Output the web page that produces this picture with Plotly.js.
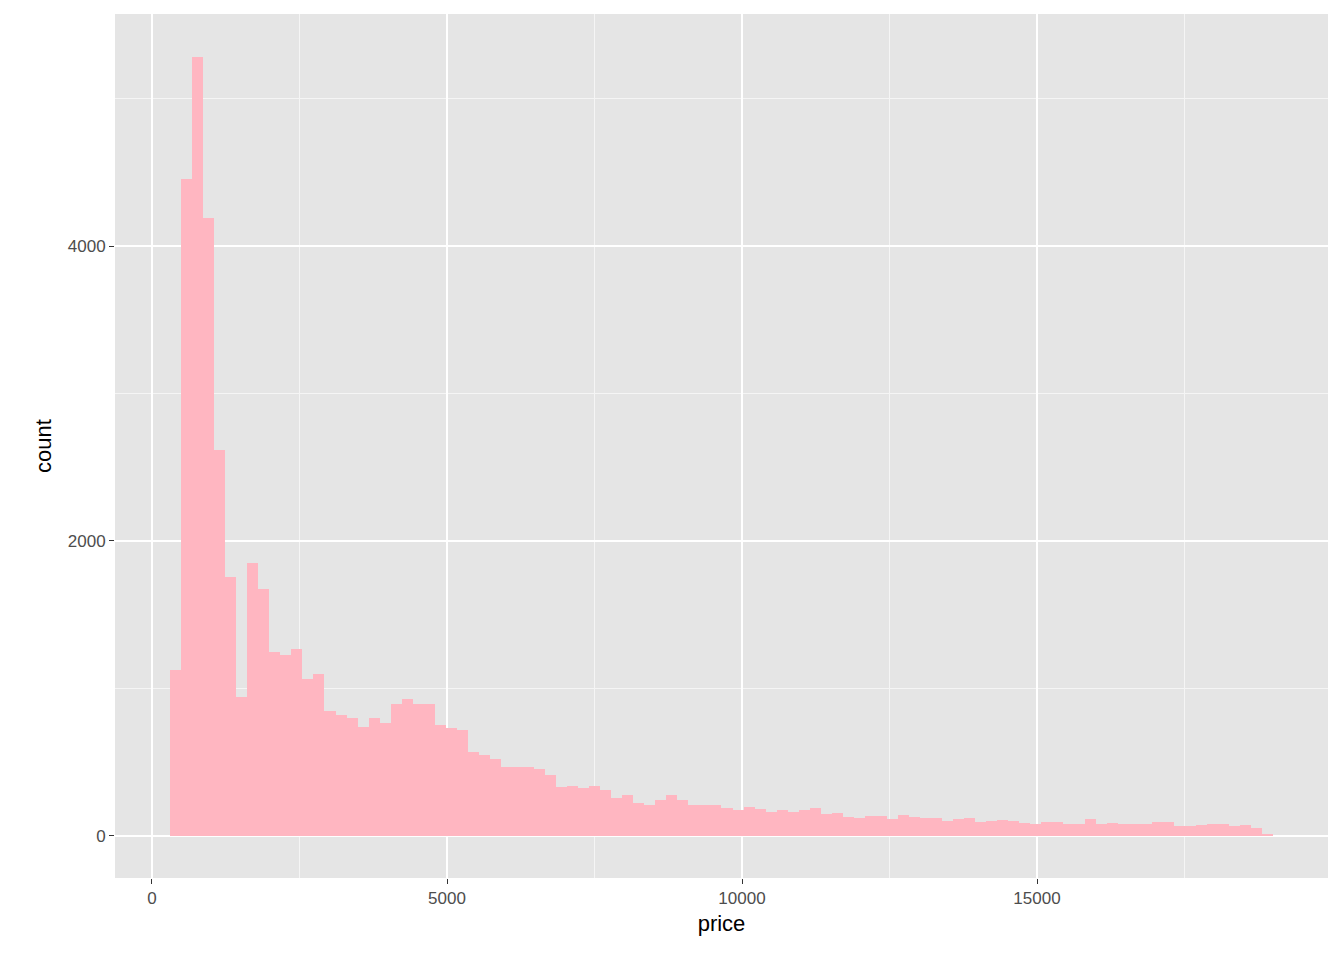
<!DOCTYPE html>
<html>
<head>
<meta charset="utf-8">
<script src="https://cdn.plot.ly/plotly-3.0.1.min.js"></script>
<style>html,body{margin:0;padding:0;background:#fff;}#chart{width:1344px;height:960px;}</style>
</head>
<body>
<div id="chart"></div>
<script>
/* Histogram of price, 100 bins; counts */
const binStart = 307;
const binWidth = 186.9;
const counts = [
  1126, 4451, 5284, 4189, 2616, 1759, 943, 1848, 1673, 1246,
  1229, 1267, 1067, 1098, 850, 823, 802, 737, 802, 768,
  898, 929, 898, 898, 754, 730, 716, 567, 547, 520,
  466, 466, 466, 452, 411, 330, 337, 323, 337, 310,
  255, 276, 221, 208, 242, 276, 242, 208, 208, 208,
  188, 174, 194, 181, 160, 174, 160, 174, 188, 147,
  154, 127, 120, 133, 133, 113, 140, 127, 120, 120,
  99, 113, 120, 93, 99, 106, 99, 86, 79, 93,
  93, 79, 79, 113, 79, 86, 79, 79, 79, 93,
  93, 66, 66, 72, 79, 79, 66, 72, 52, 11
];
const centers = counts.map((_, i) => binStart + binWidth * (i + 0.5));

const AXIS_STYLE = {
  showgrid: true,
  gridcolor: '#ffffff',
  gridwidth: 2.2,
  zeroline: false,
  showline: false,
  ticks: 'outside',
  ticklen: 5,
  tickwidth: 1.1,
  tickcolor: '#333333',
  tickfont: { family: 'Liberation Sans, Arial, sans-serif', size: 17, color: '#4d4d4d' },
};

const traces = [{
  type: 'bar',
  x: centers,
  y: counts,
  width: binWidth,
  marker: { color: '#FFB6C1', line: { width: 0 } },
  hoverinfo: 'x+y',
}];

const layout = {
  width: 1344, height: 960,
  paper_bgcolor: '#ffffff',
  plot_bgcolor: '#e5e5e5',
  margin: { l: 115, r: 16, t: 14, b: 82 },
  showlegend: false,
  bargap: 0,
  xaxis: {
    ...AXIS_STYLE,
    range: [-627, 19932],
    tickvals: [0, 5000, 10000, 15000],
    ticktext: ['0', '5000', '10000', '15000'],
    minor: { tickvals: [2500, 7500, 12500, 17500], showgrid: true, gridcolor: '#f5f5f5', gridwidth: 1.1, ticks: '' },
    title: { text: 'price', standoff: 8, font: { family: 'Liberation Sans, Arial, sans-serif', size: 22, color: '#000' } },
  },
  yaxis: {
    ...AXIS_STYLE,
    range: [-285, 5573],
    tickvals: [0, 2000, 4000],
    ticktext: ['0', '2000', '4000'],
    minor: { tickvals: [1000, 3000, 5000], showgrid: true, gridcolor: '#f5f5f5', gridwidth: 1.1, ticks: '' },
    title: { text: 'count', standoff: 10, font: { family: 'Liberation Sans, Arial, sans-serif', size: 22, color: '#000' } },
  },
};

Plotly.newPlot('chart', traces, layout, { displayModeBar: false, responsive: false });
</script>
</body>
</html>
